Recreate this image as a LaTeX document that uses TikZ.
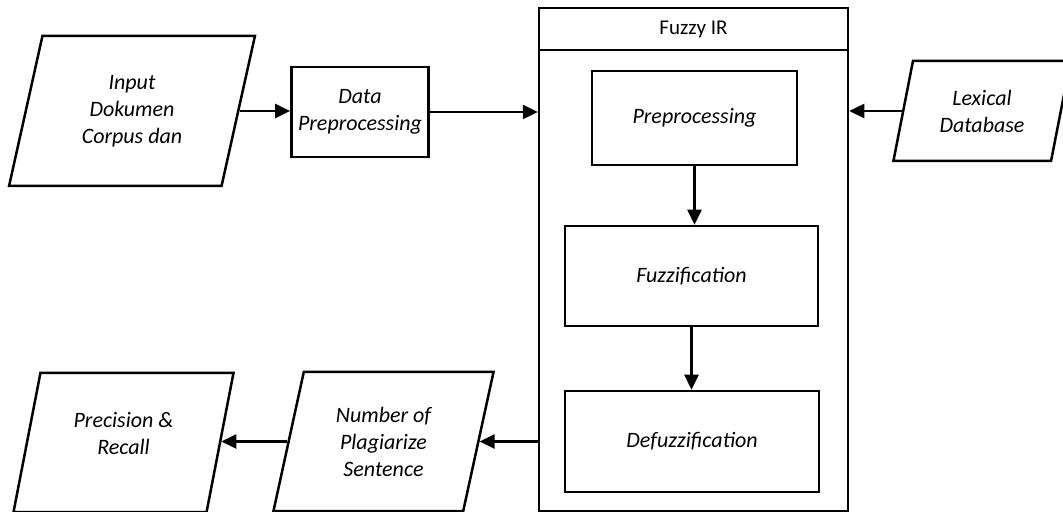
\documentclass[tikz,border=0pt]{standalone}
\usepackage{fontspec}
\setmainfont{Carlito}
\usetikzlibrary{positioning, arrows.meta, shapes.geometric}
\tikzset{
    >={Triangle[length=7.5pt, width=7pt]}, % filled arrow heads
    every picture/.style={line width=1.25pt}, % every line a bit heavy
    every node/.style={font=\itshape\fontsize{11}{13.5}\selectfont}, % italic labels
    process/.style={draw, rectangle, align=center}, % plain steps
    data/.style={draw, trapezium, trapezium left angle=76, trapezium right angle=104,
        trapezium stretches=true, align=center}, % input / output boxes
}

\begin{document}
\begin{tikzpicture}[x=0.5pt, y=-0.5pt]
    \useasboundingbox (0,0) rectangle (1063,512);
    \clip (0,0) rectangle (1063,512);
    % the big Fuzzy IR block
    \node[draw, minimum width=154.5pt, minimum height=251.5pt] (fuzzyir) at (693.5,259.5) {};
    \node[font=\fontsize{10.5}{12}\selectfont] (title) at (693.5,29) {Fuzzy IR};
    \draw (539,50) -- (848,50);
    \node[process, minimum width=102.5pt, minimum height=47pt] (pre) at (694.5,118) {Preprocessing};
    \node[process, minimum width=126.5pt, minimum height=50pt] (fuzz) at (691.5,276) {Fuzzification};
    \node[process, minimum width=127pt, minimum height=50.5pt] (defuzz) at (692,441.5) {Defuzzification};
    % left and right of it
    \node[data, minimum width=123pt, minimum height=75pt] (input) at (132,111) {Input\\Dokumen\\Corpus dan};
    \node[process, minimum width=53pt, minimum height=45pt] (datapre) at (360,112) {Data\\Preprocessing};
    \node[data, minimum width=89pt, minimum height=50pt] (lexical) at (982,111) {Lexical\\Database};
    \node[data, minimum width=110.5pt, minimum height=69.5pt] (number) at (383.5,441.5) {Number of\\Plagiarize\\Sentence};
    \node[data, minimum width=110.5pt, minimum height=69.5pt] (precision) at (123.5,442.5) {Precision \&\\Recall\\[-4.5pt]};
    \path[->] (input.east) edge (input.east -| datapre.west)
        (datapre.east) edge (datapre.east -| fuzzyir.west)
        (lexical.west) edge (lexical.west -| fuzzyir.east)
        (pre.south) edge (pre.south |- fuzz.north)
        (fuzz.south) edge (fuzz.south |- defuzz.north)
        (fuzzyir.west |- number.east) edge (number.east)
        (number.west) edge (number.west -| precision.east);
\end{tikzpicture}
\end{document}
